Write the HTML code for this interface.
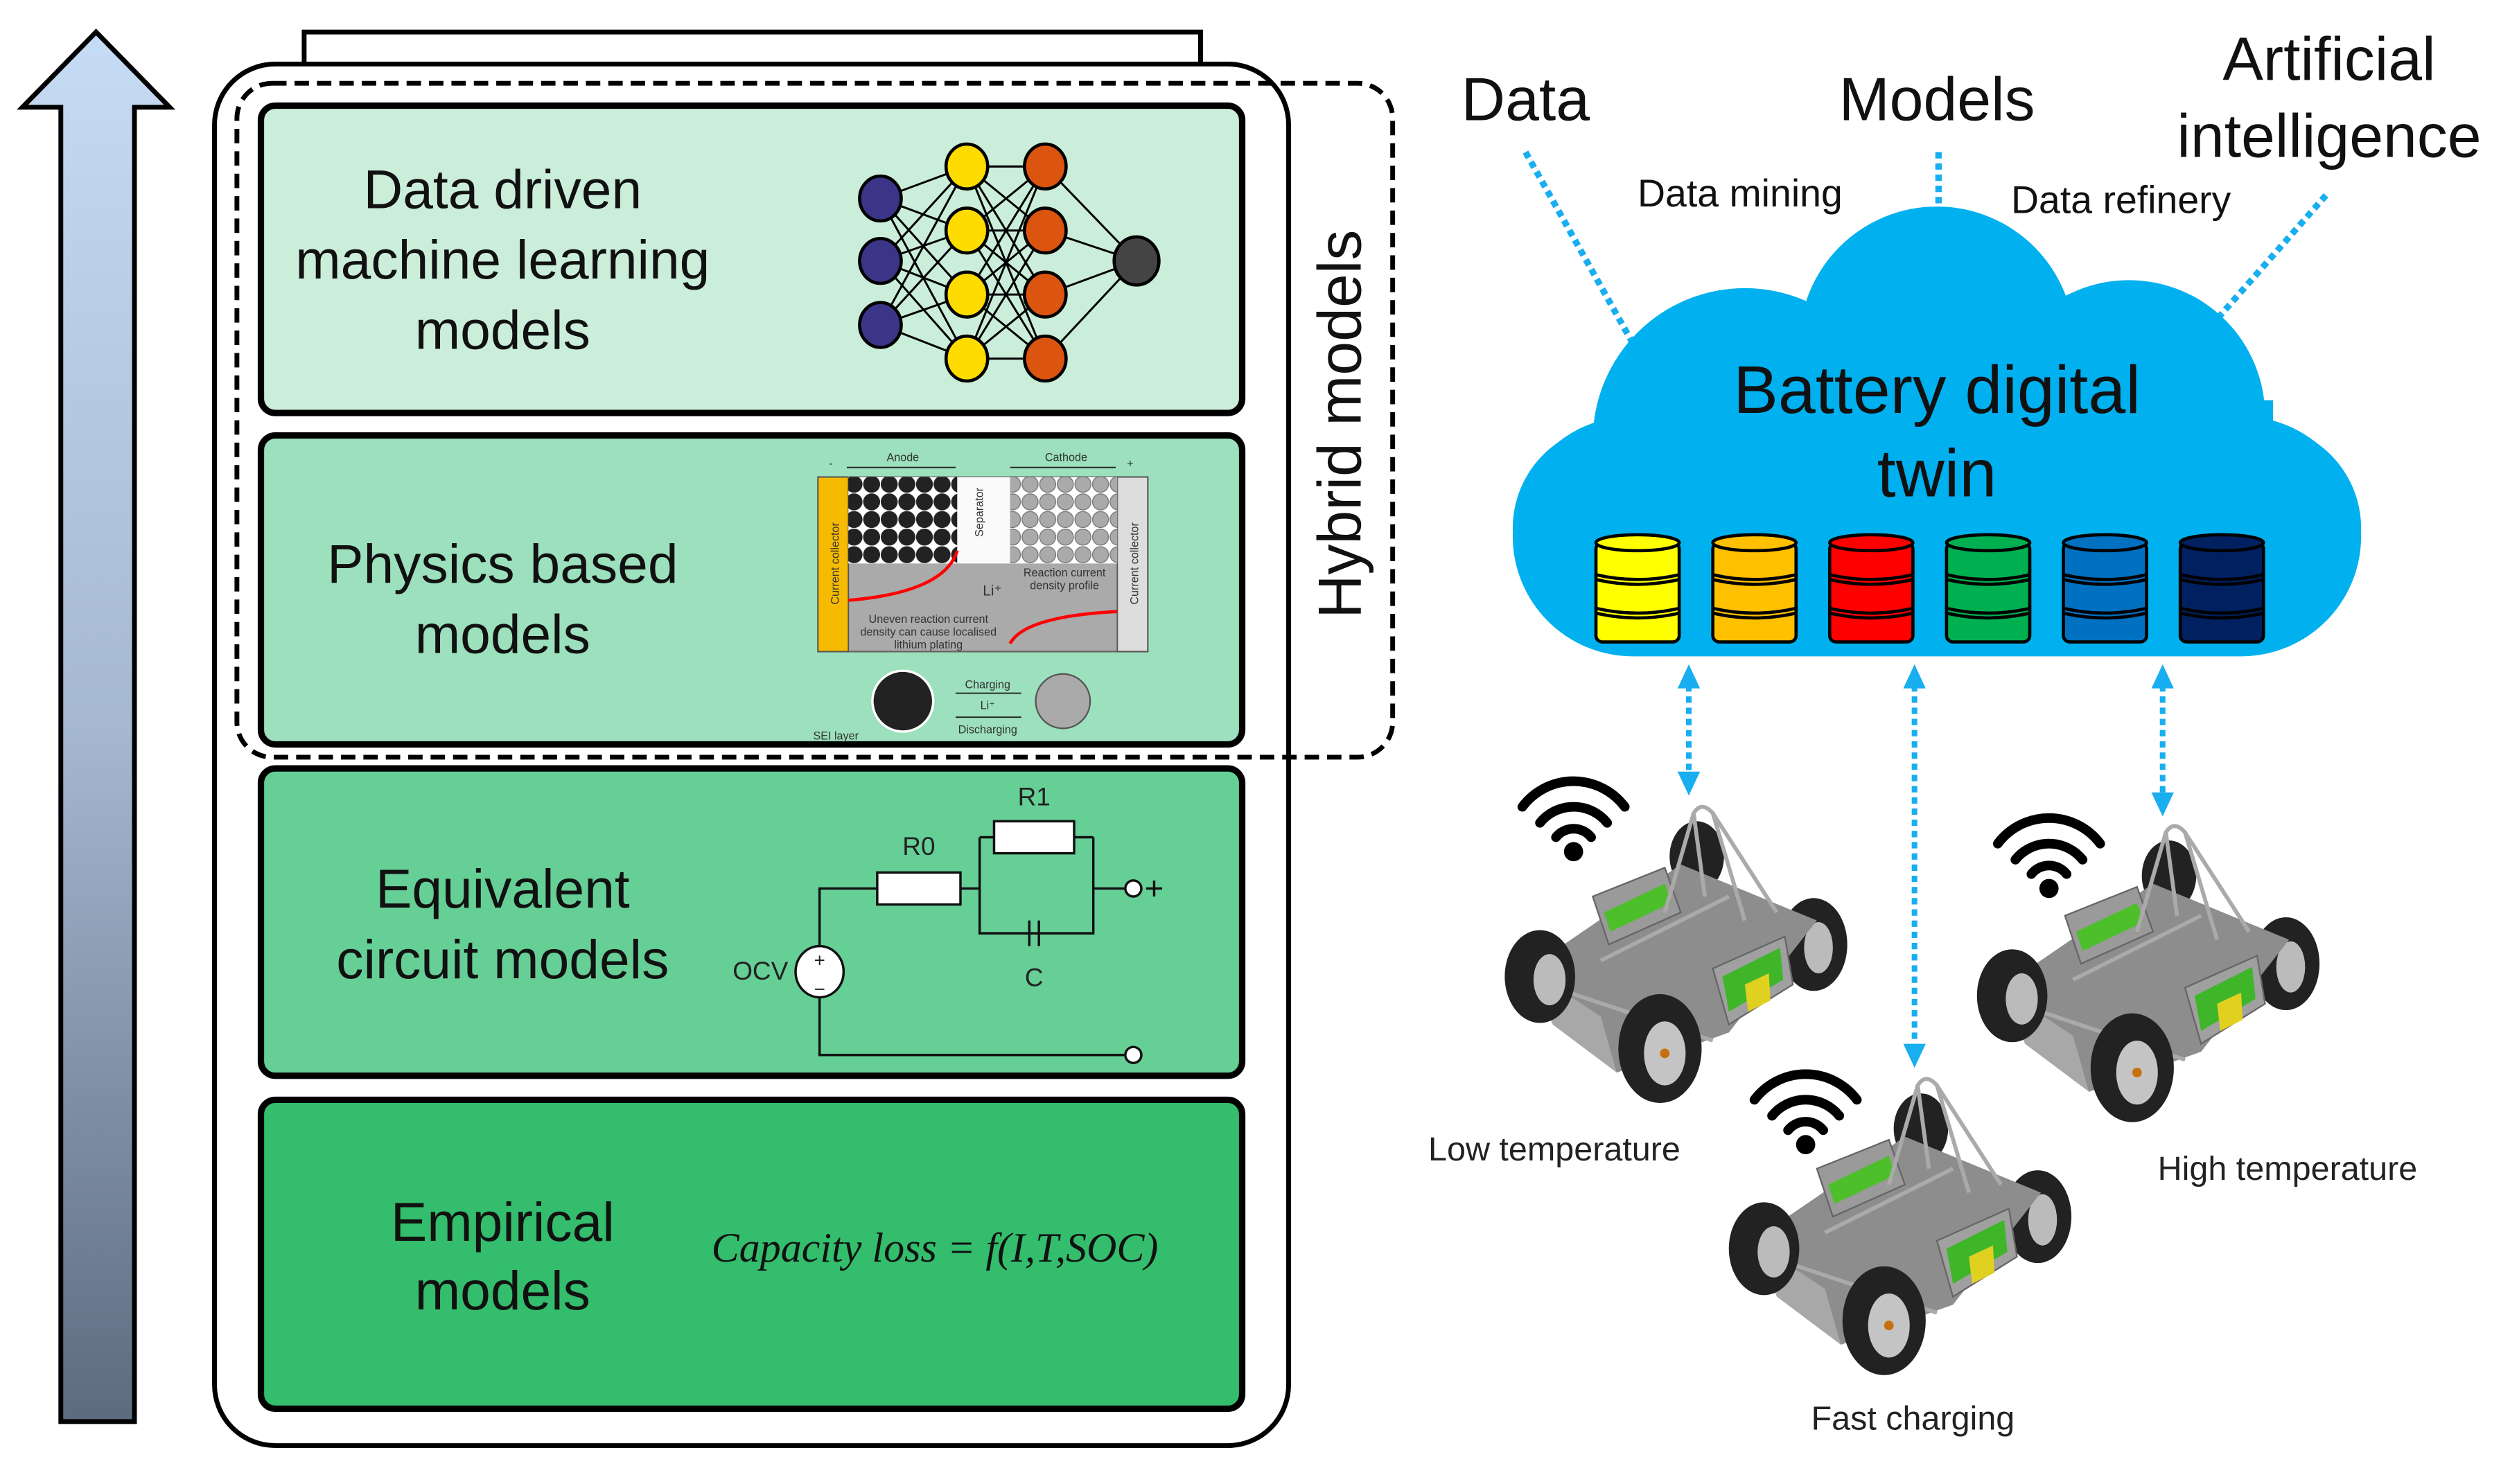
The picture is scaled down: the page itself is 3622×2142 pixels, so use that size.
<!DOCTYPE html>
<html><head><meta charset="utf-8"><style>
html,body{margin:0;padding:0;background:#fff;}
svg{display:block;}
text{font-family:"Liberation Sans",sans-serif;}
</style></head><body>
<svg width="3622" height="2142" viewBox="0 0 1568 927" preserveAspectRatio="none" xmlns="http://www.w3.org/2000/svg">
<defs>
<linearGradient id="ag" x1="0" y1="0" x2="0" y2="1">
<stop offset="0" stop-color="#c6dcf4"/><stop offset="0.5" stop-color="#a5b8d0"/><stop offset="1" stop-color="#5d6b80"/>
</linearGradient>
<pattern id="blk" width="11" height="11" patternUnits="userSpaceOnUse"><rect width="11" height="11" fill="#fff"/><circle cx="5.5" cy="5.5" r="5.3" fill="#222"/></pattern>
<pattern id="gry" width="11" height="11" patternUnits="userSpaceOnUse"><rect width="11" height="11" fill="#fff"/><circle cx="5.5" cy="5.5" r="5" fill="#aaa" stroke="#777" stroke-width="0.6"/></pattern>
<g id="car">
<ellipse cx="120" cy="35" rx="17" ry="22" fill="#222"/>
<ellipse cx="193" cy="90" rx="21" ry="29" fill="#222"/>
<ellipse cx="196" cy="92" rx="9" ry="16" fill="#bbb"/>
<polygon points="15,105 110,40 195,75 140,145 70,170" fill="#8d8d8d"/>
<polygon points="55,60 100,42 110,70 65,90" fill="#9a9a9a" stroke="#666" stroke-width="1"/>
<polygon points="62,70 100,52 104,64 66,82" fill="#4cbf2a"/>
<polygon points="130,105 175,85 180,115 140,140" fill="#a0a0a0" stroke="#666" stroke-width="1"/>
<polygon points="136,110 172,92 174,112 140,132" fill="#3fb62a"/>
<polygon points="150,115 165,108 166,125 152,132" fill="#e0d020"/>
<path d="M125,60 L118,8 Q123,0 130,8 L150,75 M118,8 L100,70 M130,8 L170,70 M60,100 L140,60 M40,120 L130,150" stroke="#aaa" stroke-width="2.5" fill="none"/>
<polygon points="15,105 30,140 70,170 60,135" fill="#a8a8a8"/>
<ellipse cx="22" cy="110" rx="22" ry="29" fill="#222"/>
<ellipse cx="28" cy="112" rx="10" ry="16" fill="#bbb"/>
<ellipse cx="97" cy="155" rx="26" ry="34" fill="#222"/>
<ellipse cx="100" cy="158" rx="13" ry="20" fill="#c4c4c4"/>
<circle cx="100" cy="158" r="3" fill="#c87010"/>
</g>
<g id="wifi" fill="none" stroke="#000" stroke-width="6" stroke-linecap="round">
<path d="M-32,-18 A40,40 0 0 1 32,-18"/>
<path d="M-21,-8 A27,27 0 0 1 21,-8"/>
<path d="M-11,1 A14,14 0 0 1 11,1"/>
<circle cx="0" cy="10" r="6" fill="#000" stroke="none"/>
</g>
<g id="cyl" stroke="#000" stroke-width="2">
<rect x="-26" y="4" width="52" height="62" rx="4"/>
<ellipse cx="0" cy="4" rx="26" ry="5"/>
<path d="M-26,24 Q0,30 26,24 M-26,27 Q0,33 26,27 M-26,45 Q0,51 26,45 M-26,48 Q0,54 26,48" fill="none"/>
</g>
</defs>

<polygon points="60,20 106,67 84,67 84,888 38,888 38,67 14,67" fill="url(#ag)" stroke="#000" stroke-width="3"/>

<rect x="190" y="20" width="560" height="30" fill="#fff" stroke="#000" stroke-width="3"/>
<rect x="134" y="40" width="671" height="863" rx="38" fill="#fff" stroke="#000" stroke-width="3"/>
<rect x="148" y="52" width="722" height="421" rx="22" fill="none" stroke="#000" stroke-width="3" stroke-dasharray="9,5"/>

<rect x="163" y="66" width="613" height="192" rx="9" fill="#cbeeda" stroke="#000" stroke-width="4"/>
<rect x="163" y="272" width="613" height="193" rx="9" fill="#9ce0bd" stroke="#000" stroke-width="4"/>
<rect x="163" y="480" width="613" height="192" rx="9" fill="#66cf96" stroke="#000" stroke-width="4"/>
<rect x="163" y="687" width="613" height="193" rx="9" fill="#33bd6c" stroke="#000" stroke-width="4"/>

<g font-size="34" text-anchor="middle" fill="#111">
<text x="314" y="130">Data driven</text>
<text x="314" y="174">machine learning</text>
<text x="314" y="218">models</text>
<text x="314" y="364">Physics based</text>
<text x="314" y="408">models</text>
<text x="314" y="567">Equivalent</text>
<text x="314" y="611">circuit models</text>
<text x="314" y="775">Empirical</text>
<text x="314" y="818">models</text>
</g>
<text transform="translate(850,265) rotate(-90)" font-size="38" text-anchor="middle" fill="#111">Hybrid models</text>

<g stroke="#000" stroke-width="1.3">
<path d="M550,124L604,104M550,124L604,144M550,124L604,184M550,124L604,224M550,163L604,104M550,163L604,144M550,163L604,184M550,163L604,224M550,203L604,104M550,203L604,144M550,203L604,184M550,203L604,224"/>
<path d="M604,104L653,104M604,104L653,144M604,104L653,184M604,104L653,224M604,144L653,104M604,144L653,144M604,144L653,184M604,144L653,224M604,184L653,104M604,184L653,144M604,184L653,184M604,184L653,224M604,224L653,104M604,224L653,144M604,224L653,184M604,224L653,224"/>
<path d="M653,104L710,163M653,144L710,163M653,184L710,163M653,224L710,163"/>
</g>
<g stroke="#000" stroke-width="2">
<ellipse cx="550" cy="124" rx="13" ry="14" fill="#3a3587"/>
<ellipse cx="550" cy="163" rx="13" ry="14" fill="#3a3587"/>
<ellipse cx="550" cy="203" rx="13" ry="14" fill="#3a3587"/>
<ellipse cx="604" cy="104" rx="13" ry="14" fill="#ffdc00"/>
<ellipse cx="604" cy="144" rx="13" ry="14" fill="#ffdc00"/>
<ellipse cx="604" cy="184" rx="13" ry="14" fill="#ffdc00"/>
<ellipse cx="604" cy="224" rx="13" ry="14" fill="#ffdc00"/>
<ellipse cx="653" cy="104" rx="13" ry="14" fill="#db5410"/>
<ellipse cx="653" cy="144" rx="13" ry="14" fill="#db5410"/>
<ellipse cx="653" cy="184" rx="13" ry="14" fill="#db5410"/>
<ellipse cx="653" cy="224" rx="13" ry="14" fill="#db5410"/>
<ellipse cx="710" cy="163" rx="14" ry="15" fill="#444"/>
</g>

<g font-size="7" fill="#333">
<text x="564" y="288" text-anchor="middle">Anode</text>
<text x="666" y="288" text-anchor="middle">Cathode</text>
<text x="518" y="292">-</text><text x="704" y="292">+</text>
<path d="M529,292H597M631,292H697" stroke="#222" stroke-width="0.8"/>
<rect x="511" y="298" width="206" height="109" fill="#aaa" stroke="#666"/>
<rect x="511" y="298" width="19" height="109" fill="#f6bb00" stroke="#555" stroke-width="0.8"/>
<rect x="698" y="298" width="19" height="109" fill="#ddd" stroke="#555" stroke-width="0.8"/>
<rect x="530" y="298" width="68" height="54" fill="url(#blk)"/>
<rect x="598" y="298" width="33" height="54" fill="#fafafa"/>
<rect x="631" y="298" width="67" height="54" fill="url(#gry)"/>
<path d="M530,375Q590,370 598,344" stroke="#f00" stroke-width="2" fill="none"/>
<path d="M631,402Q640,385 698,382" stroke="#f00" stroke-width="2" fill="none"/>
<text x="665" y="360" text-anchor="middle">Reaction current</text>
<text x="665" y="368" text-anchor="middle">density profile</text>
<text x="614" y="372" font-size="9">Li⁺</text>
<text x="580" y="389" text-anchor="middle">Uneven reaction current</text>
<text x="580" y="397" text-anchor="middle">density can cause localised</text>
<text x="580" y="405" text-anchor="middle">lithium plating</text>
<text transform="translate(524,352) rotate(-90)" text-anchor="middle">Current collector</text>
<text transform="translate(711,352) rotate(-90)" text-anchor="middle">Current collector</text>
<text transform="translate(614,320) rotate(-90)" text-anchor="middle">Separator</text>
<circle cx="564" cy="438" r="19" fill="#222" stroke="#fff" stroke-width="1.5"/>
<circle cx="664" cy="438" r="17" fill="#aaa" stroke="#555"/>
<text x="617" y="430" text-anchor="middle">Charging</text>
<text x="617" y="443" text-anchor="middle">Li⁺</text>
<text x="617" y="458" text-anchor="middle">Discharging</text>
<path d="M597,433H638M597,448H638" stroke="#222" stroke-width="0.8"/>
<text x="508" y="462">SEI layer</text>
</g>

<g stroke="#111" stroke-width="1.5" fill="none">
<path d="M512,592V555H548M600,555H612M612,523V583H683V523M612,523H621M671,523H683M683,555H703"/>
<path d="M512,622V659H703"/>
<path d="M643,575V591M649,575V591"/>
<rect x="548" y="545" width="52" height="20" fill="#fff"/>
<rect x="621" y="513" width="50" height="20" fill="#fff"/>
<ellipse cx="512" cy="607" rx="15" ry="16" fill="#fff"/>
<circle cx="708" cy="555" r="5" fill="#fff"/>
<circle cx="708" cy="659" r="5" fill="#fff"/>
<path d="M716,555H726M721,550V560"/>
</g>
<g font-size="16" fill="#222" text-anchor="middle">
<text x="574" y="534">R0</text><text x="646" y="503">R1</text><text x="646" y="616">C</text>
<text x="475" y="612">OCV</text>
<text x="512" y="604" font-size="12">+</text><text x="512" y="622" font-size="12">−</text>
</g>

<text x="584" y="788" style="font-family:'Liberation Serif','DejaVu Serif',serif;font-style:italic" font-size="26" text-anchor="middle" fill="#111">Capacity loss = f(I,T,SOC)</text>

<g fill="#111" text-anchor="middle">
<text x="953" y="75" font-size="38">Data</text>
<text x="1210" y="75" font-size="38">Models</text>
<text x="1455" y="50" font-size="38">Artificial</text>
<text x="1455" y="98" font-size="38">intelligence</text>
<text x="1087" y="129" font-size="24">Data mining</text>
<text x="1325" y="133" font-size="24">Data refinery</text>
</g>
<g stroke="#18aef0" stroke-width="4" stroke-dasharray="4,3" fill="none">
<path d="M953,95L1022,218M1211,95V138M1453,122L1380,205"/>
</g>

<g fill="#00b0ef">
<rect x="945" y="260" width="530" height="150" rx="75"/>
<circle cx="1210" cy="215" r="86"/>
<circle cx="1090" cy="275" r="95"/>
<circle cx="1330" cy="260" r="85"/>
<circle cx="1010" cy="330" r="65"/>
<circle cx="1410" cy="330" r="65"/>
<rect x="1000" y="250" width="420" height="150"/>
</g>
<text x="1210" y="258" font-size="42" text-anchor="middle" fill="#111">Battery digital</text>
<text x="1210" y="310" font-size="42" text-anchor="middle" fill="#111">twin</text>
<use href="#cyl" x="1023" y="335" fill="#ffff00"/>
<use href="#cyl" x="1096" y="335" fill="#ffc000"/>
<use href="#cyl" x="1169" y="335" fill="#ff0000"/>
<use href="#cyl" x="1242" y="335" fill="#00b050"/>
<use href="#cyl" x="1315" y="335" fill="#0070c0"/>
<use href="#cyl" x="1388" y="335" fill="#002060"/>

<g stroke="#18aef0" stroke-width="3.5" stroke-dasharray="4,3">
<path d="M1055,428V485M1196,428V655M1351,428V498"/>
</g>
<g fill="#18aef0">
<polygon points="1055,415 1048,430 1062,430"/><polygon points="1055,497 1048,482 1062,482"/>
<polygon points="1196,415 1189,430 1203,430"/><polygon points="1196,667 1189,652 1203,652"/>
<polygon points="1351,415 1344,430 1358,430"/><polygon points="1351,510 1344,495 1358,495"/>
</g>

<use href="#car" x="940" y="500"/>
<use href="#car" x="1235" y="512"/>
<use href="#car" x="1080" y="670"/>
<use href="#wifi" x="983" y="522"/>
<use href="#wifi" x="1280" y="545"/>
<use href="#wifi" x="1128" y="705"/>

<g font-size="21" fill="#222" text-anchor="middle">
<text x="971" y="725">Low temperature</text>
<text x="1429" y="737">High temperature</text>
<text x="1195" y="893">Fast charging</text>
</g>
</svg>
</body></html>
